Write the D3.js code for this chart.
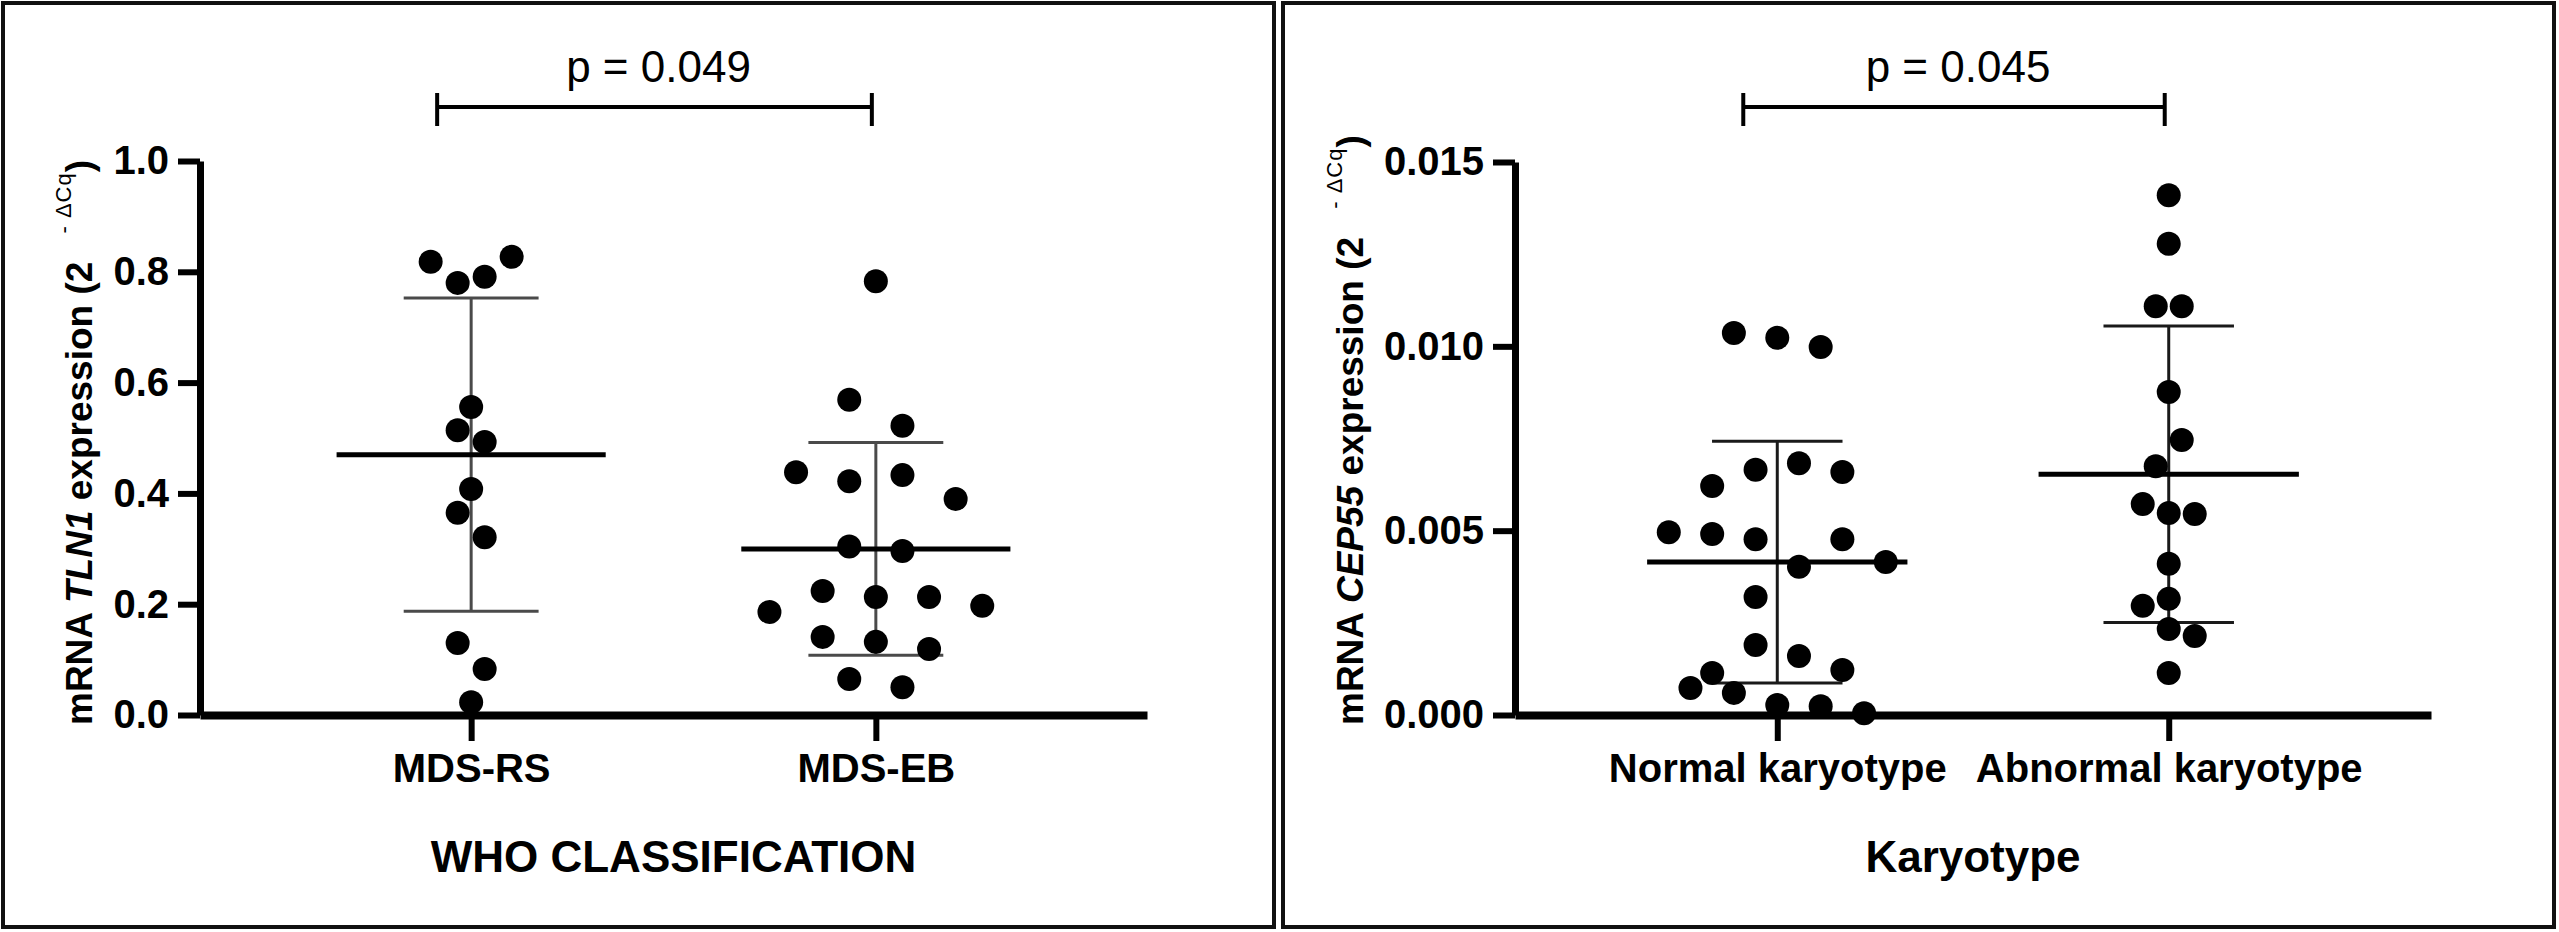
<!DOCTYPE html>
<html lang="en">
<head>
<meta charset="UTF-8"/>
<title>TLN1 and CEP55 expression</title>
<script src="https://cdn.jsdelivr.net/npm/d3@7"></script>
<style>
body {
  margin: 0;
  background: #fff;
  font-family: 'Liberation Sans', Arial, sans-serif;
}
svg { display: block; }
.frame { fill: none; stroke: #111; stroke-width: 4; }
.axis path.domain { stroke: #000; stroke-width: 8; }
.axis .tick line { stroke: #000; stroke-width: 6; }
.axis text {
  font-family: 'Liberation Sans', Arial, sans-serif;
  font-weight: bold;
  font-size: 40px;
  fill: #000;
}
text.title { font-weight: bold; font-size: 44px; }
text.pval { font-size: 44px; }
text.ylab { font-size: 37px; font-weight: bold; white-space: pre; }
.dot { fill: #000; }
</style>
</head>
<body>
<svg width="2559" height="932"></svg>
<script>
// ---- data ----
const whoCats = ['MDS-RS', 'MDS-EB'];
const rsValues = [0.818, 0.780, 0.791, 0.827, 0.556, 0.514, 0.493, 0.408, 0.365, 0.321, 0.130, 0.083, 0.023];
const rsSwarm  = [-3, -1, 1, 3, 0, -1, 1, 0, -1, 1, -1, 1, 0];
const ebValues = [0.783, 0.569, 0.522, 0.438, 0.422, 0.433, 0.390, 0.304, 0.296, 0.224, 0.213, 0.213,
                  0.186, 0.197, 0.141, 0.132, 0.119, 0.065, 0.050];
const ebSwarm  = [0, -1, 1, -3, -1, 1, 3, -1, 1, -2, 0, 2, -4, 4, -2, 0, 2, -1, 1];
const tlnTicks = [0, 0.2, 0.4, 0.6, 0.8, 1.0];

const karyoCats = ['Normal karyotype', 'Abnormal karyotype'];
const normalValues = [0.01036, 0.01023, 0.00998, 0.00665, 0.00683, 0.00659, 0.00621, 0.00496, 0.00491,
                      0.00477, 0.00477, 0.00402, 0.00415, 0.00320, 0.00190, 0.00160, 0.00122, 0.00114,
                      0.00073, 0.00060, 0.00027, 0.00024, 0.00005];
const normalSwarm  = [-2, 0, 2, -1, 1, 3, -3, -5, -3, -1, 3, 1, 5, -1, -1, 1, 3, -3, -4, -2, 0, 2, 4];
const abnormalValues = [0.01410, 0.01278, 0.01109, 0.01109, 0.00876, 0.00746, 0.00675, 0.00572, 0.00548,
                        0.00545, 0.00410, 0.00296, 0.00315, 0.00233, 0.00214, 0.00114];
const abnormalSwarm  = [0, 0, -1, 1, 0, 1, -1, -2, 0, 2, 0, -2, 0, 0, 2, 0];
const cepTicks = [0, 0.005, 0.010, 0.015];

const pLabels = ['p = 0.049', 'p = 0.045'];

// ---- layout ----
const svg = d3.select('svg');
const y0 = 715;
const r = 12;

const panels = [
  {
    frameX: 3, axisX: 200, axisEnd: 1147, yTop: 161,
    cats: whoCats, yMax: 1.0, ticks: tlnTicks, fmt: d3.format('.1f'),
    groups: [{ values: rsValues, swarm: rsSwarm, step: 13.5 },
             { values: ebValues, swarm: ebSwarm, step: 26.6 }],
    gene: 'TLN1', xTitle: 'WHO CLASSIFICATION', p: pLabels[0], sdColor: '#4a4a4a'
  },
  {
    frameX: 1283, axisX: 1515, axisEnd: 2431, yTop: 162,
    cats: karyoCats, yMax: 0.015, ticks: cepTicks, fmt: d3.format('.3f'),
    groups: [{ values: normalValues, swarm: normalSwarm, step: 21.7 },
             { values: abnormalValues, swarm: abnormalSwarm, step: 13 }],
    gene: 'CEP55', xTitle: 'Karyotype', p: pLabels[1], sdColor: '#1a1a1a'
  }
];

panels.forEach((p) => {
  svg.append('rect')
    .attr('class', 'frame')
    .attr('x', p.frameX).attr('y', 3)
    .attr('width', 1271).attr('height', 924);

  const x = d3.scalePoint()
    .domain(p.cats)
    .range([p.axisX, p.axisEnd])
    .padding(0.67);

  const y = d3.scaleLinear()
    .domain([0, p.yMax])
    .range([y0, p.yTop]);

  // axes
  svg.append('g')
    .attr('class', 'axis')
    .attr('transform', `translate(0, ${y0})`)
    .call(d3.axisBottom(x).tickSize(26).tickSizeOuter(0).tickPadding(13));

  const yAxis = svg.append('g')
    .attr('class', 'axis')
    .attr('transform', `translate(${p.axisX}, 0)`)
    .call(d3.axisLeft(y).tickValues(p.ticks).tickFormat(p.fmt)
      .tickSize(22).tickSizeOuter(0).tickPadding(9));
  yAxis.select('path.domain').style('stroke-width', 7);

  // group markers: SD whiskers, dots, mean line
  p.groups.forEach((g, gi) => {
    const cx = x(p.cats[gi]);
    const jitter = d3.scaleLinear().domain([-1, 1]).range([-g.step, g.step]);
    const mean = d3.mean(g.values);
    const sd = d3.deviation(g.values);
    const meanW = x.step() * 0.665;
    const capW = x.step() / 3;

    const grp = svg.append('g');

    grp.append('line')
      .attr('x1', cx).attr('x2', cx)
      .attr('y1', y(mean + sd)).attr('y2', y(mean - sd))
      .attr('stroke', p.sdColor).attr('stroke-width', 3);

    [mean + sd, mean - sd].forEach((v) => {
      grp.append('line')
        .attr('x1', cx - capW / 2).attr('x2', cx + capW / 2)
        .attr('y1', y(v)).attr('y2', y(v))
        .attr('stroke', p.sdColor).attr('stroke-width', 3);
    });

    grp.selectAll('circle')
      .data(g.values)
      .enter()
      .append('circle')
      .attr('class', 'dot')
      .attr('cx', (d, i) => cx + jitter(g.swarm[i]))
      .attr('cy', (d) => y(d))
      .attr('r', r);

    grp.append('line')
      .attr('x1', cx - meanW / 2).attr('x2', cx + meanW / 2)
      .attr('y1', y(mean)).attr('y2', y(mean))
      .attr('stroke', '#000').attr('stroke-width', 5);
  });

  // y label, placed left of the widest tick label
  let minX = Infinity;
  yAxis.selectAll('.tick text').each(function () {
    minX = Math.min(minX, this.getBBox().x);
  });
  const bx = p.axisX + minX - 21;

  const ylab = svg.append('text')
    .attr('class', 'ylab')
    .attr('transform', `translate(${bx}, ${y0 + 10}) rotate(-90)`)
    .attr('text-anchor', 'start');
  ylab.append('tspan').text('mRNA ');
  ylab.append('tspan').attr('font-style', 'italic').text(p.gene);
  ylab.append('tspan').text(' expression (2 ');
  ylab.append('tspan')
    .attr('font-size', 22).attr('font-weight', 'normal')
    .attr('dx', 18).attr('dy', -21)
    .text('-');
  ylab.append('tspan')
    .attr('font-size', 22).attr('font-weight', 'normal')
    .attr('dx', 8).attr('letter-spacing', 1)
    .text('\u0394Cq');
  ylab.append('tspan').attr('dy', 21).text(')');

  // x title
  const mid = (x(p.cats[0]) + x(p.cats[1])) / 2;
  svg.append('text')
    .attr('class', 'title')
    .attr('x', mid).attr('y', 872)
    .attr('text-anchor', 'middle')
    .text(p.xTitle);

  // significance bracket
  const bx1 = x(p.cats[0]) - 34;
  const bx2 = x(p.cats[1]) - 4;
  const br = svg.append('g').attr('stroke', '#000').attr('stroke-width', 4);
  br.append('line').attr('x1', bx1).attr('x2', bx2).attr('y1', 107).attr('y2', 107);
  br.append('line').attr('x1', bx1).attr('x2', bx1).attr('y1', 93).attr('y2', 126);
  br.append('line').attr('x1', bx2).attr('x2', bx2).attr('y1', 93).attr('y2', 126);

  svg.append('text')
    .attr('class', 'pval')
    .attr('x', (bx1 + bx2) / 2 + 4).attr('y', 82)
    .attr('text-anchor', 'middle')
    .text(p.p);
});
</script>
</body>
</html>
